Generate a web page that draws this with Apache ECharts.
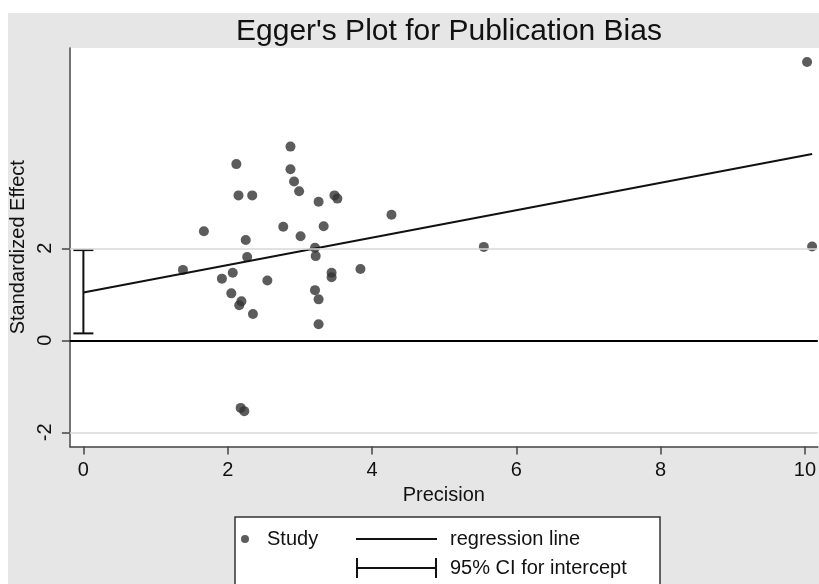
<!DOCTYPE html>
<html>
<head>
<meta charset="utf-8">
<title>Egger's Plot</title>
<script src="https://cdn.jsdelivr.net/npm/echarts@6/dist/echarts.min.js"></script>
<style>
    html, body { margin: 0; padding: 0; background: #fff; }
    #chart { width: 819px; height: 584px; }
</style>
</head>
<body>
<div id="chart"></div>
<script>
// Data
var precision = [1.38, 1.67, 1.92, 2.05, 2.07, 2.12, 2.15, 2.16, 2.19, 2.18, 2.23, 2.25, 2.27, 2.34, 2.35, 2.55, 2.77, 2.87, 2.87,
    2.92, 2.99, 3.01, 3.21, 3.22, 3.21, 3.26, 3.26, 3.26, 3.33, 3.44, 3.44, 3.48, 3.52, 3.84, 4.27, 5.55, 10.03, 10.10];
var effect = [1.53, 2.37, 1.34, 1.02, 1.47, 3.83, 3.15, 0.76, 0.85, -1.47, -1.54, 2.18, 1.81, 3.15, 0.57, 1.30, 2.47, 4.21, 3.72,
    3.45, 3.24, 2.26, 2.01, 1.83, 1.09, 0.89, 0.35, 3.01, 2.48, 1.47, 1.37, 3.15, 3.08, 1.55, 2.73, 2.03, 6.05, 2.04];

// regression line end points (precision, standardized effect)
var regLine = [[0, 1.04], [10.1, 4.05]];

// 95% CI for intercept: [precision, low, high]
var ciIntercept = [[0, 0.15, 1.96]];

var xTicks = [0, 2, 4, 6, 8, 10];
var yTicks = [-2, 0, 2];
var gridValues = [-2, 2];

window.onload = init;

function init() {
    var chart = echarts.init(document.getElementById('chart'), null, { renderer: 'canvas' });

    var studyData = [];
    for (var i = 0; i < precision.length; i++) {
        studyData.push([precision[i], effect[i]]);
    }

    var font = 'Liberation Sans';

    var option = {
        backgroundColor: '#ffffff',
        animation: false,
        textStyle: { fontFamily: font },
        title: {
            text: "Egger's Plot for Publication Bias",
            left: 236,
            top: 17,
            padding: 0,
            textStyle: { fontFamily: font, fontSize: 30, fontWeight: 'normal', color: '#111' }
        },
        graphic: [
            // gray page background
            { type: 'rect', z: -20, shape: { x: 8, y: 13, width: 811, height: 571 }, style: { fill: '#e6e6e6' }, silent: true },
            // white plot region
            { type: 'rect', z: -15, shape: { x: 69, y: 48, width: 750, height: 398.5 }, style: { fill: '#ffffff' }, silent: true },
            // legend box
            { type: 'rect', z: -10, shape: { x: 235, y: 517, width: 425, height: 90 }, style: { fill: '#ffffff', stroke: '#333', lineWidth: 1.5 }, silent: true }
        ],
        legend: [
            {
                data: [{ name: 'Study', icon: 'circle' }],
                left: 241, top: 529, padding: 0,
                itemWidth: 8, itemHeight: 8,
                selectedMode: false,
                textStyle: { fontSize: 20, color: '#111', padding: [0, 0, 0, 13] }
            },
            {
                data: [{ name: 'regression line', icon: 'path://M0,0h81v2h-81z' }],
                left: 356, top: 529, padding: 0,
                itemWidth: 81, itemHeight: 2,
                selectedMode: false,
                textStyle: { fontSize: 20, color: '#111', padding: [0, 0, 0, 8] }
            },
            {
                data: [{ name: '95% CI for intercept', icon: 'path://M0,0h2v20h-2z M0,9h81v2h-81z M79,0h2v20h-2z' }],
                left: 356, top: 558, padding: 0,
                itemWidth: 81, itemHeight: 20,
                selectedMode: false,
                textStyle: { fontSize: 20, color: '#111', padding: [0, 0, 0, 8] }
            }
        ],
        grid: {
            left: 69,
            top: 48,
            right: 0,
            height: 398.5,
            containLabel: false
        },
        xAxis: {
            type: 'value',
            min: -0.187,
            max: 10.179,
            name: 'Precision',
            nameLocation: 'middle',
            nameGap: 38,
            nameTextStyle: { fontSize: 20, color: '#111' },
            axisLine: { show: true, onZero: false, lineStyle: { color: '#444', width: 1.5 } },
            axisTick: { show: true, length: 8, customValues: xTicks, lineStyle: { color: '#444', width: 1.5 } },
            axisLabel: { fontSize: 20, color: '#111', margin: 14, customValues: xTicks },
            splitLine: { show: false }
        },
        yAxis: {
            type: 'value',
            min: -2.309,
            max: 6.354,
            name: 'Standardized Effect',
            nameLocation: 'middle',
            nameGap: 35,
            nameTextStyle: { fontSize: 20, color: '#111' },
            axisLine: { show: true, onZero: false, lineStyle: { color: '#444', width: 1.5 } },
            axisTick: { show: true, length: 8, customValues: yTicks, lineStyle: { color: '#444', width: 1.5 } },
            axisLabel: { fontSize: 20, color: '#111', margin: 14, rotate: 90, customValues: yTicks },
            splitLine: { show: false }
        },
        series: [
            {
                // horizontal grid lines at -2 and 2 (Stata style)
                name: 'grid',
                type: 'line',
                data: [],
                z: 1,
                silent: true,
                markLine: {
                    silent: true,
                    symbol: 'none',
                    label: { show: false },
                    lineStyle: { color: '#d9d9d9', width: 1.5, type: 'solid' },
                    data: gridValues.map(function(v) { return { yAxis: v }; })
                }
            },
            {
                name: 'Study',
                type: 'scatter',
                data: studyData,
                symbol: 'circle',
                symbolSize: 10,
                itemStyle: { color: '#333333' },
                z: 3,
                markLine: {
                    silent: true,
                    symbol: 'none',
                    label: { show: false },
                    lineStyle: { color: '#000', width: 2, type: 'solid' },
                    data: [{ yAxis: 0 }]
                }
            },
            {
                name: 'regression line',
                type: 'line',
                data: regLine,
                symbol: 'none',
                showSymbol: false,
                itemStyle: { color: '#111' },
                lineStyle: { color: '#111', width: 2 },
                z: 4
            },
            {
                name: '95% CI for intercept',
                type: 'custom',
                data: ciIntercept,
                itemStyle: { color: '#111' },
                z: 4,
                renderItem: function(params, api) {
                    var lo = api.coord([api.value(0), api.value(1)]);
                    var hi = api.coord([api.value(0), api.value(2)]);
                    var cap = 10;
                    var st = { stroke: '#111', lineWidth: 2 };
                    return {
                        type: 'group',
                        children: [
                            { type: 'line', shape: { x1: lo[0], y1: lo[1], x2: hi[0], y2: hi[1] }, style: st },
                            { type: 'line', shape: { x1: lo[0] - cap, y1: lo[1], x2: lo[0] + cap, y2: lo[1] }, style: st },
                            { type: 'line', shape: { x1: hi[0] - cap, y1: hi[1], x2: hi[0] + cap, y2: hi[1] }, style: st }
                        ]
                    };
                }
            }
        ]
    };

    chart.setOption(option);
}
</script>
</body>
</html>
